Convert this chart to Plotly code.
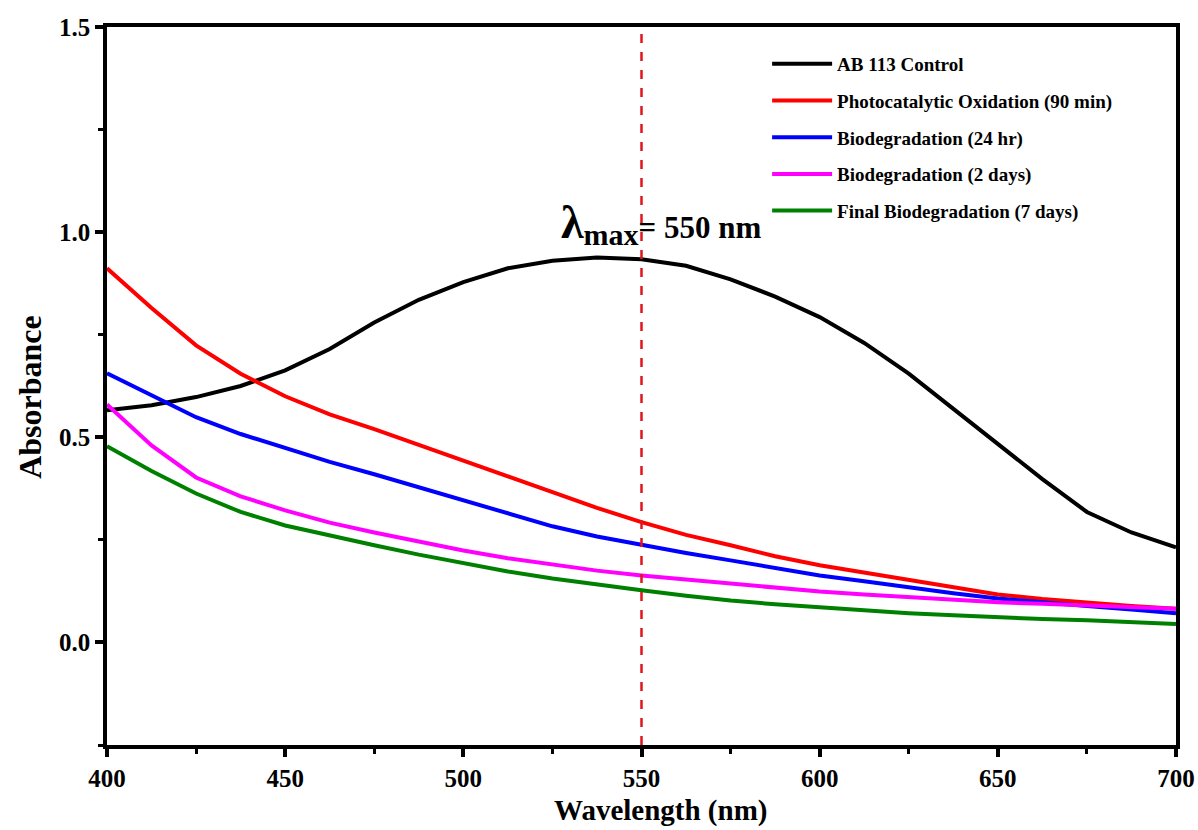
import plotly.graph_objects as go

wavelength = [400, 412.5, 425, 437.5, 450, 462.5, 475, 487.5, 500, 512.5, 525, 537.5, 550, 562.5, 575, 587.5, 600, 612.5, 625, 637.5, 650, 662.5, 675, 687.5, 700]

ab113_control = [0.566, 0.578, 0.598, 0.625, 0.663, 0.715, 0.78, 0.835, 0.878, 0.912, 0.930, 0.938, 0.934, 0.918, 0.885, 0.843, 0.793, 0.730, 0.655, 0.570, 0.482, 0.398, 0.318, 0.268, 0.232]
photocatalytic = [0.912, 0.815, 0.724, 0.655, 0.600, 0.556, 0.520, 0.482, 0.444, 0.405, 0.366, 0.328, 0.293, 0.262, 0.237, 0.210, 0.188, 0.170, 0.151, 0.133, 0.117, 0.106, 0.097, 0.089, 0.082]
bio_24hr = [0.656, 0.602, 0.549, 0.508, 0.473, 0.440, 0.410, 0.378, 0.346, 0.314, 0.283, 0.258, 0.237, 0.218, 0.200, 0.181, 0.163, 0.149, 0.134, 0.120, 0.107, 0.097, 0.089, 0.080, 0.071]
bio_2days = [0.580, 0.480, 0.402, 0.356, 0.322, 0.292, 0.268, 0.245, 0.224, 0.205, 0.190, 0.175, 0.163, 0.153, 0.144, 0.134, 0.124, 0.117, 0.110, 0.104, 0.098, 0.094, 0.090, 0.086, 0.082]
final_7days = [0.478, 0.418, 0.363, 0.318, 0.285, 0.260, 0.237, 0.214, 0.193, 0.173, 0.156, 0.141, 0.127, 0.114, 0.102, 0.093, 0.085, 0.077, 0.071, 0.066, 0.061, 0.057, 0.054, 0.049, 0.045]

series_names = ["AB 113 Control", "Photocatalytic Oxidation (90 min)", "Biodegradation (24 hr)",
                "Biodegradation (2 days)", "Final Biodegradation (7 days)"]
series_values = [ab113_control, photocatalytic, bio_24hr, bio_2days, final_7days]
series_colors = ["#000000", "#ff0000", "#0000ff", "#ff00ff", "#008000"]

lambda_max = 550

FONT = "Liberation Serif"

fig = go.Figure()
for i, (name, vals, col) in enumerate(zip(series_names, series_values, series_colors)):
    fig.add_trace(go.Scatter(x=wavelength, y=vals, mode="lines", name=name,
                             legendgroup=f"g{i}",
                             line=dict(color=col, width=4)))

fig.add_vline(x=lambda_max, line=dict(color="#e0161e", width=2.5, dash="dash"))

fig.add_annotation(x=555.5, y=1.02, xref="x", yref="y", showarrow=False,
                   text="<span style='font-size:46px'>λ</span><sub><span style='font-size:30px'>max</span></sub>= 550 nm",
                   font=dict(family=FONT, size=31, color="black", weight="bold"))

# axis titles
fig.add_annotation(x=0.518, y=-0.116, xref="paper", yref="paper", showarrow=False,
                   xanchor="center", yanchor="bottom", borderpad=0, text="Wavelength (nm)",
                   font=dict(family=FONT, size=29, color="black", weight="bold"))
fig.add_annotation(x=-0.072, y=0.485, xref="paper", yref="paper", showarrow=False,
                   xanchor="center", yanchor="middle", text="Absorbance", textangle=-90,
                   font=dict(family=FONT, size=32, color="black", weight="bold"))

axis_common = dict(showline=True, linecolor="black", linewidth=3.5, mirror=True,
                   ticks="outside", tickwidth=3.5, ticklen=8, tickcolor="black",
                   showgrid=False, zeroline=False, automargin=False,
                   tickfont=dict(family=FONT, size=25, color="black", weight="bold"))

fig.update_xaxes(range=[400, 700], dtick=50, tick0=400,
                 minor=dict(dtick=25, ticks="outside", ticklen=5, tickwidth=3, tickcolor="black"),
                 **axis_common)
fig.update_yaxes(range=[-0.25, 1.5], dtick=0.5, tick0=0, tickformat=".1f",
                 minor=dict(dtick=0.25, ticks="outside", ticklen=5, tickwidth=3, tickcolor="black"),
                 **axis_common)

fig.update_layout(
    width=1198, height=830,
    margin=dict(l=107, r=22, t=27, b=85),
    plot_bgcolor="white", paper_bgcolor="white",
    legend=dict(x=0.6175, y=0.975, xanchor="left", yanchor="top",
                font=dict(family=FONT, size=19, color="black", weight="bold"),
                tracegroupgap=9, itemwidth=60,
                bgcolor="rgba(0,0,0,0)", borderwidth=0),
    showlegend=True,
)

fig.write_html("out.html")
